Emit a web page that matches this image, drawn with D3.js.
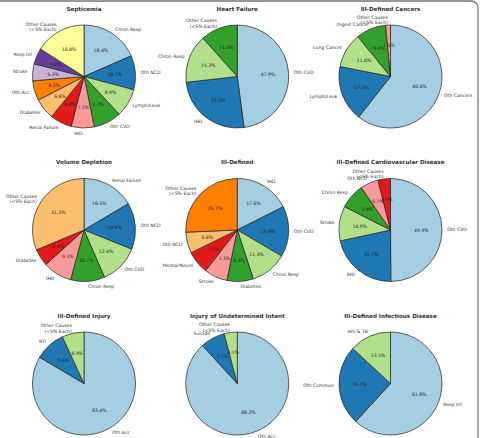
<!DOCTYPE html>
<html><head><meta charset="utf-8">
<script src="https://cdn.jsdelivr.net/npm/d3@7"></script>
<style>html,body{margin:0;padding:0;background:#fff;}svg{display:block;}</style>
</head><body>
<svg id="chart" width="480" height="438"></svg>
<script>
const titles = ["Septicemia","Heart Failure","Ill-Defined Cancers","Volume Depletion","Ill-Defined","Ill-Defined Cardiovascular Disease","Ill-Defined Injury","Injury of Undetermined Intent","Ill-Defined Infectious Disease"];
const OTHER = "Other Causes\n(<5% Each)";
const septicemiaLabels = ["Chron Resp","Oth NCD","Lymph/Leuk","Oth CVD","IHD","Renal Failure","Diabetes","Oth Acc","Stroke","Resp Inf",OTHER];
const septicemiaValues = [18.4,10.7,8.9,8.7,7.2,6.8,6.6,6.2,5.3,5.0,16.0];
const heartFailureLabels = ["Oth CVD","IHD","Chron Resp",OTHER];
const heartFailureValues = [47.9,25.3,15.2,11.6];
const cancersLabels = ["Oth Cancers","Lymph/Leuk","Lung Cancer","Digest Cancer",OTHER];
const cancersValues = [60.6,17.5,11.0,9.4,1.5];
const volumeLabels = ["Renal Failure","Oth NCD","Oth CVD","Chron Resp","IHD","Diabetes",OTHER];
const volumeValues = [16.5,14.6,12.4,10.7,9.1,5.4,31.3];
const illDefinedLabels = ["IHD","Oth CVD","Chron Resp","Diabetes","Stroke","Mental/Neuro","Oth NCD",OTHER];
const illDefinedValues = [17.6,15.9,11.5,8.3,7.3,7.2,6.6,25.7];
const cardioLabels = ["Oth CVD","IHD","Stroke","Chron Resp","Oth NCD",OTHER];
const cardioValues = [49.9,21.7,10.9,7.9,5.7,3.9];
const injuryLabels = ["Oth Acc","RTI",OTHER];
const injuryValues = [83.4,9.6,6.9];
const undeterminedLabels = ["Oth Acc","Suicide",OTHER];
const undeterminedValues = [88.2,7.7,4.1];
const infectiousLabels = ["Resp Inf","Oth Commun","HIV & TB"];
const infectiousValues = [61.8,25.1,13.1];

const charts = [
  [septicemiaLabels, septicemiaValues],
  [heartFailureLabels, heartFailureValues],
  [cancersLabels, cancersValues],
  [volumeLabels, volumeValues],
  [illDefinedLabels, illDefinedValues],
  [cardioLabels, cardioValues],
  [injuryLabels, injuryValues],
  [undeterminedLabels, undeterminedValues],
  [infectiousLabels, infectiousValues]
];

const svg = d3.select("#chart");
const W = 480, H = 438;
svg.append("rect").attr("width",W).attr("height",H).attr("fill","#fff");
// frame (top + right edges with rounded corner)
svg.append("path")
  .attr("d","M0,1 H471 A7,7 0 0 1 478,8 V438")
  .attr("fill","none").attr("stroke","#777").attr("stroke-width",1.3);

const colX = d3.scalePoint().domain([0,1,2]).range([84,390.5]);
const rowY = d3.scalePoint().domain([0,1,2]).range([76.5,383.5]);
const R = 51.5;
const color = d3.scaleOrdinal(d3.schemePaired);
const pie = d3.pie().sort(null).value(d => d);
const arc = d3.arc().innerRadius(0).outerRadius(R);
const pctArc = d3.arc().innerRadius(R*0.6).outerRadius(R*0.6);
const lblArc = d3.arc().innerRadius(R*1.1).outerRadius(R*1.1);
const fmt = d3.format(".1f");
const font = "DejaVu Sans, sans-serif";

charts.forEach(([labels, values], i) => {
  const cx = colX(i % 3), cy = rowY(Math.floor(i / 3));
  const g = svg.append("g").attr("transform", `translate(${cx},${cy})`);
  g.append("text").attr("x",0).attr("y",-67.5).attr("dy","0.35em")
    .attr("text-anchor","middle").attr("font-family",font)
    .attr("font-size",5.6).attr("font-weight","bold").attr("fill","#333")
    .text(titles[i]);
  const arcs = pie(values);
  g.selectAll("path.slice").data(arcs).enter().append("path")
    .attr("class","slice").attr("d",arc)
    .attr("fill",(d,j) => d3.schemePaired[j])
    .attr("stroke","#222").attr("stroke-width",0.7);
  g.selectAll("text.pct").data(arcs).enter().append("text")
    .attr("class","pct")
    .attr("x",d => pctArc.centroid(d)[0]).attr("y",d => pctArc.centroid(d)[1])
    .attr("dy","0.35em").attr("text-anchor","middle")
    .attr("font-family",font).attr("font-size",4.6).attr("fill","#222")
    .text(d => fmt(d.value) + "%");
  arcs.forEach((d, j) => {
    const [lx, ly] = lblArc.centroid(d);
    const lines = labels[j].split("\n");
    const lh = 5.4;
    const t = g.append("text")
      .attr("text-anchor", lx > 0 ? "start" : "end")
      .attr("font-family",font).attr("font-size",4.6).attr("fill","#333");
    lines.forEach((ln, k) => {
      t.append("tspan").attr("x",lx)
        .attr("y", ly + (k - (lines.length-1)/2) * lh)
        .attr("dy","0.35em").text(ln);
    });
  });
});
</script>
</body></html>
